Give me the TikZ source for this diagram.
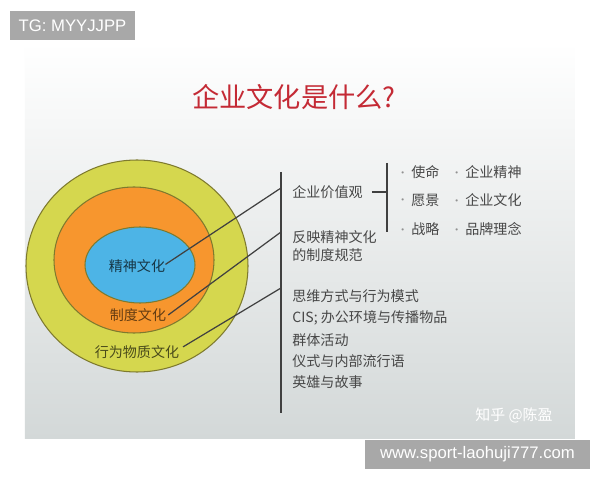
\documentclass[tikz,border=0pt]{standalone}
\usepackage{fontspec}
\setmainfont{Liberation Sans}
\newfontfamily\cjk{Noto Sans CJK SC}
\usetikzlibrary{positioning}
\definecolor{outer}{HTML}{D5D74E}
\definecolor{middle}{HTML}{F7962E}
\definecolor{inner}{HTML}{4DB4E6}
\definecolor{rim}{HTML}{7E7A2E}
\definecolor{ink}{HTML}{474747}
\definecolor{titlered}{HTML}{C42A35}
\definecolor{slidegrey}{HTML}{D3D8D8}
\definecolor{tag}{HTML}{A8A8A8}
\newcommand{\dotmark}{\makebox[0.2cm][l]{\raisebox{1.2pt}{\textcolor{ink!60}{\fontspec{Liberation Sans}\fontsize{4.5}{5}\selectfont\textbullet}}}}

\tikzset{
  item/.style={anchor=west,inner sep=0pt,text=ink,font=\cjk\fontsize{8}{10}\selectfont},
  ring/.style={draw=rim,line width=0.6pt},
  link/.style={draw=ink!90!black,line width=0.7pt},
  tagbox/.style={fill=tag,text=white,inner sep=0pt,font=\fontsize{9.5}{11}\selectfont}
}

\begin{document}
\begin{tikzpicture}[x=0.02cm,y=-0.02cm]
  \useasboundingbox (0,0) rectangle (600,480);
  \fill[white] (0,0) rectangle (600,480);

  % Slide
  \shade[top color=white,bottom color=slidegrey] (25,42) rectangle (575,439);

  % Title
  \node[text=titlered,font=\cjk\fontsize{15.5}{18}\selectfont] (title) at (294,97) {企业文化是什么?};

  % Rings
  \draw[ring,fill=outer] (137,266) ellipse (111 and 106);
  \draw[ring,fill=middle] (134,260) ellipse (80 and 73);
  \draw[ring,fill=inner] (140,265) ellipse (55 and 38);
  \node[item,anchor=center,text=inner!30!black] (spirit) at (137,266) {精神文化};
  \node[item,anchor=center,text=middle!40!black] (system) at (138,315) {制度文化};
  \node[item,anchor=center,text=outer!35!black] (behave) at (137,352) {行为物质文化};

  % Bar
  \coordinate (bartop) at (281,172);
  \coordinate (barbot) at (281,413);
  \draw[link,line width=1.1pt] (bartop) -- (barbot);
  \coordinate (hit1) at (281,188);
  \coordinate (hit2) at (281,232);
  \coordinate (hit3) at (281,288);
  \draw[link] ([yshift=-3pt]spirit.north east) -- (hit1);
  \draw[link] ([xshift=1pt]system.east) -- (hit2);
  \draw[link] ([xshift=2pt,yshift=-1pt]behave.north east) -- (hit3);

  % Values
  \node[item] (value) at (292,192) {企业价值观};
  \coordinate (brktop) at (387,163);
  \coordinate (brkbot) at (387,232);
  \coordinate (brk) at (387,192);
  \draw[link,line width=1.1pt] (brktop) -- (brkbot);
  \draw[link,line width=1.1pt] ([xshift=5pt]value.east) -- (brk);
  \node[item] (mission) at (401,172) {\dotmark 使命};
  \node[item] (vision)  at (401,200) {\dotmark 愿景};
  \node[item] (strat)   at (401,229) {\dotmark 战略};
  \node[item] (spiritb) at (455,172) {\dotmark 企业精神};
  \node[item] (cult)    at (455,200) {\dotmark 企业文化};
  \node[item] (brand)   at (455,229) {\dotmark 品牌理念};

  % Rules
  \node[item] (rule1) at (292,237) {反映精神文化};
  \node[item] (rule2) at (292,255) {的制度规范};

  % Behaviour list
  \node[item] (list1) at (292,296) {思维方式与行为模式};
  \node[item] (list2) at (292,318) {CIS; 办公环境与传播物品};
  \node[item] (list3) at (292,340) {群体活动};
  \node[item] (list4) at (292,361) {仪式与内部流行语};
  \node[item] (list5) at (292,382) {英雄与故事};

  % Marks
  \node[item,text=white,font=\cjk\fontsize{8.5}{10}\selectfont] (mark) at (475,415) {知乎 @陈盈};
  \node[tagbox,minimum width=125*0.02cm,minimum height=29*0.02cm] (tg) at (72.5,25.5) {TG: MYYJJPP};
  \node[tagbox,minimum width=225*0.02cm,minimum height=29*0.02cm] (site) at (477.5,454.5) {www.sport-laohuji777.com};
\end{tikzpicture}
\end{document}
